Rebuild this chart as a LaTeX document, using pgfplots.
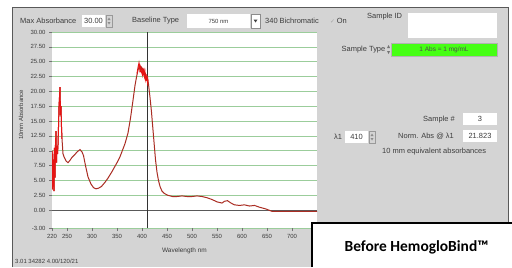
\documentclass[border=0pt]{standalone}
\usepackage{pgfplots}
\pgfplotsset{compat=1.18}
\usepackage{fontspec}
\setmainfont{Liberation Sans}
\newfontfamily\carlito{Carlito}
\newfontfamily\dejavu{DejaVu Sans}
\definecolor{panelgray}{RGB}{212,212,212}
\definecolor{gridgreen}{RGB}{155,205,155}
\definecolor{curvered}{RGB}{170,45,35}
\definecolor{noisered}{RGB}{230,20,20}
\definecolor{uitext}{RGB}{60,60,60}
\definecolor{limegreen}{RGB}{70,255,20}
\newcommand{\ui}{\fontsize{7.5}{8.5}\selectfont\color{uitext}}
\begin{document}
\begin{tikzpicture}[x=1bp,y=1bp]
\useasboundingbox (0,0) rectangle (512,267);
\fill[white] (0,0) rectangle (512,267);
\fill[panelgray] (12,0) rectangle (508,260);
\draw[black!65, line width=0.8bp] (12,0) -- (12,260) -- (508,260) -- (508,0);
% top bar
\node[anchor=west, inner sep=0] at (20,246) {\ui Max Absorbance};
\fill[white] (82,240) rectangle (105,252);
\node[inner sep=0] at (93.5,246) {\ui 30.00};
\draw[black!40, line width=0.4bp] (106,240) rectangle (112,252);
\fill[black!45] (107.5,247) -- (110.5,247) -- (109,249.5) -- cycle;
\fill[black!45] (107.5,245) -- (110.5,245) -- (109,242.5) -- cycle;
\node[anchor=west, inner sep=0] at (132,246) {\ui Baseline Type};
\fill[white] (187,239) rectangle (250,253);
\node[inner sep=0] at (218.5,246) {\fontsize{6}{7}\selectfont\color{uitext}750 nm};
\fill[white] (251,239) rectangle (260,253);
\draw[black!45, line width=0.4bp] (251,239) rectangle (260,253);
\fill[black!75] (253.5,247.5) -- (257.5,247.5) -- (255.5,244.5) -- cycle;
\node[anchor=west, inner sep=0] at (265,246) {\ui 340 Bichromatic};
\node[anchor=west, inner sep=0] at (330,246) {{\dejavu\fontsize{6}{7}\selectfont\color{black!35}✓}\,\ui On};
\node[anchor=west, inner sep=0] at (367,250) {\ui Sample ID};
\fill[white] (408,229) rectangle (497,254);
\node[anchor=east, inner sep=0] at (385.5,217.5) {\ui Sample Type};
\fill[black!55] (387,219) -- (390,219) -- (388.5,222) -- cycle;
\fill[black!55] (387,216) -- (390,216) -- (388.5,213) -- cycle;
\fill[limegreen] (391,211) rectangle (497,224);
\draw[black!30, line width=0.4bp] (391,211) rectangle (497,224);
\node[inner sep=0] at (444,217.5) {\fontsize{6.5}{7.5}\selectfont\color{black!70}1 Abs = 1 mg/mL};
% right panel fields
\node[anchor=west, inner sep=0] at (423,147) {\ui Sample \#};
\fill[white] (463,142) rectangle (497,154);
\node[inner sep=0] at (480,148) {\ui 3};
\node[anchor=west, inner sep=0] at (334,130.5) {\ui λ1};
\fill[white] (345,124) rectangle (368,136);
\node[inner sep=0] at (356.5,130) {\ui 410};
\draw[black!40, line width=0.4bp] (369,124) rectangle (375,136);
\fill[black!45] (370.5,131) -- (373.5,131) -- (372,133.5) -- cycle;
\fill[black!45] (370.5,129) -- (373.5,129) -- (372,126.5) -- cycle;
\node[anchor=west, inner sep=0] at (398,130.5) {\ui Norm. Abs @ λ1};
\fill[white] (463,125) rectangle (497,137);
\node[inner sep=0] at (480,131) {\ui 21.823};
\node[anchor=west, inner sep=0] at (382,115) {\ui 10 mm equivalent absorbances};
\node[anchor=west, inner sep=0] at (15,6) {\fontsize{6}{7}\selectfont\color{uitext}3.01 34282 4.00/120/21};
% chart
\begin{axis}[
  at={(52bp,39bp)}, anchor=south west,
  scale only axis, width=265bp, height=196bp,
  xmin=220, xmax=750, ymin=-3, ymax=30,
  axis background/.style={fill=white},
  axis line style={draw=none},
  xtick={220,250,300,350,400,450,500,550,600,650,700,750},
  xticklabels={220,250,300,350,400,450,500,550,600,650,700,750},
  ytick={-3,0,2.5,5,7.5,10,12.5,15,17.5,20,22.5,25,27.5,30},
  yticklabels={-3.00,0.00,2.50,5.00,7.50,10.00,12.50,15.00,17.50,20.00,22.50,25.00,27.50,30.00},
  xtick pos=bottom, ytick pos=left,
  tick align=outside, major tick length=3bp,
  tick style={black!55, line width=0.5bp},
  ymajorgrids, major grid style={gridgreen, line width=0.6bp},
  ticklabel style={font=\fontsize{6}{7}\selectfont, text=uitext},
  xlabel={Wavelength nm}, ylabel={10mm Absorbance},
  xlabel style={at={(axis description cs:0.5,-0.117)}, anchor=center, font=\fontsize{6.5}{7.5}\selectfont, text=uitext},
  ylabel style={at={(axis description cs:-0.117,0.577)}, anchor=center, font=\fontsize{6}{7}\selectfont, text=uitext},
  clip=true,
]
\draw[black!65, line width=0.9bp] (axis cs:220,0) -- (axis cs:750,0);
\draw[black!80, line width=0.6bp] (axis cs:410,-3) -- (axis cs:410,30);
\addplot[curvered, line width=1bp] coordinates {
(220,10.0)(220.5,3.5)(221,9.5)(222,4)(223,8.5)(224,3.2)(225,10.5)(226,5.5)(227,11)(228,13.3)(229,8)(230,10.8)(231,9.5)(232,11)(233,14)(234,17.5)(235,19)(236,20.7)(237,16)(238,17.5)(239,14)(240,12)(242,9.5)
(244,9.0)(248,8.3)(252,8.0)(256,8.4)(260,8.9)(265,9.3)(270,9.8)(276,10.2)(280,9.8)(283,9.2)(287,7.5)(292,5.6)(298,4.4)(303,3.8)(308,3.6)(313,3.7)(319,4.0)(326,4.7)(332,5.4)(340,6.5)(350,8.0)(356,9.0)(361,10.1)(366,11.2)(372,13.0)(377,15.5)(382,18.5)(386,21)
(389,22.4)(392,23.6)(395,24.4)(397,23.6)(399,24.0)(401,23.0)(403,23.6)(405,22.8)(407,23.0)(409,22.0)(411,22.4)(413,21.2)(416,19)(419,16.5)(422,13.5)(424,11.5)(427,8.5)(430,6.4)(433,5.0)(436,4.0)(440,3.2)(445,2.8)(452,2.5)(461,2.3)(470,2.3)(480,2.4)(490,2.3)(500,2.3)(510,2.4)(520,2.3)(530,2.1)(540,1.8)(550,1.4)(560,1.2)(565,1.5)(571,1.6)(578,1.2)(585,0.9)(595,0.8)(605,0.9)(615,0.7)(625,0.8)(635,0.5)(648,0.2)(660,-0.2)(680,-0.2)(700,-0.2)(720,-0.2)(750,-0.2)
};
\addplot[noisered, line width=1bp] coordinates {
(220,10.0)(220.5,3.5)(221,9.5)(222,4)(223,8.5)(224,3.2)(225,10.5)(226,5.5)(227,11)(228,13.3)(229,8)(230,10.8)(231,9.5)(232,11)(233,14)(234,17.5)(235,19)(236,20.7)(237,16)(238,17.5)(239,14)(240,12)
};
\addplot[noisered, line width=1bp] coordinates {
(390,23)(392,24)(394,24.8)(395,24.2)(396,23.2)(397,24)(398,23.5)(400,23.0)(401,24)(402,22.8)(404,23.5)(405,22.6)(406,23.2)(407,22.2)(408,22.9)(409,21.8)(410,22.6)(411,21.5)(412,22)
};
\end{axis}
% label box
\fill[white] (312,0) rectangle (512,44);
\draw[black, line width=1.2bp] (312,0) -- (312,44) -- (512.5,44);
\node[anchor=base, inner sep=0] at (416.5,16) {\carlito\bfseries\fontsize{15.5}{17}\selectfont Before HemogloBind™};
\end{tikzpicture}
\end{document}
